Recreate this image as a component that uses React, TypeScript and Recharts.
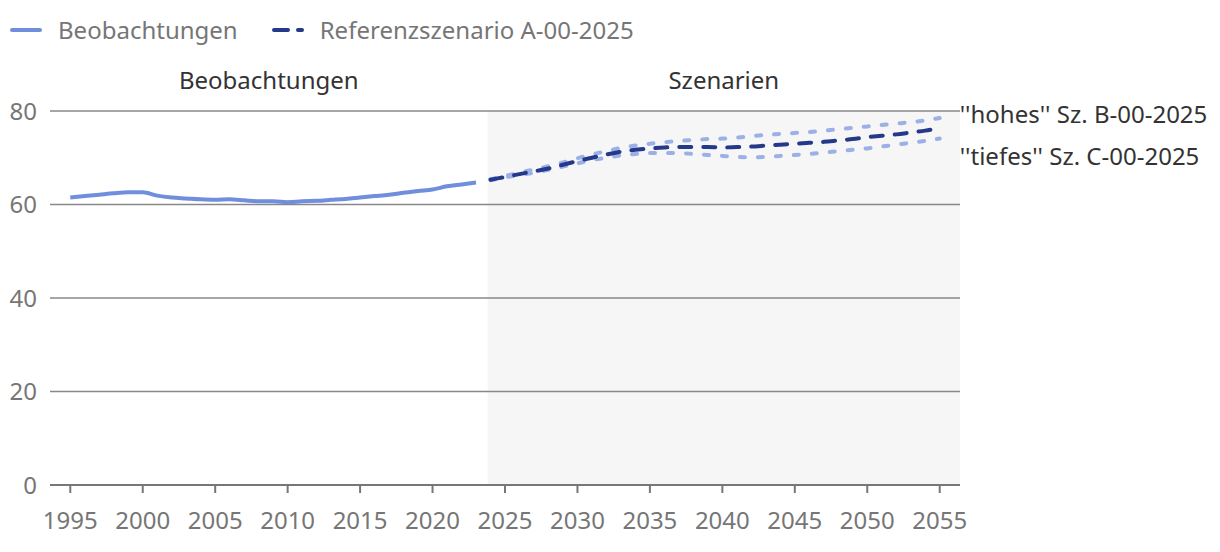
import React from 'react';
import {
  LineChart,
  Line,
  XAxis,
  YAxis,
  ReferenceArea,
  ReferenceLine,
} from 'recharts';

const obsYears = [
  1995, 1996, 1997, 1998, 1999, 2000, 2001, 2002, 2003, 2004, 2005, 2006, 2007, 2008, 2009,
  2010, 2011, 2012, 2013, 2014, 2015, 2016, 2017, 2018, 2019, 2020, 2021, 2022, 2023,
];
const beobachtungen = [
  61.5, 61.8, 62.1, 62.4, 62.6, 62.6, 61.9, 61.5, 61.3, 61.1, 61.0, 61.1, 60.9, 60.7, 60.7,
  60.5, 60.7, 60.8, 61.0, 61.2, 61.5, 61.8, 62.1, 62.5, 62.9, 63.2, 63.9, 64.3, 64.7,
];

const szenYears = [
  2024, 2025, 2026, 2027, 2028, 2029, 2030, 2031, 2032, 2033, 2034, 2035, 2036, 2037, 2038, 2039,
  2040, 2041, 2042, 2043, 2044, 2045, 2046, 2047, 2048, 2049, 2050, 2051, 2052, 2053, 2054, 2055,
];
const referenz = [
  65.3, 65.9, 66.5, 67.1, 67.7, 68.5, 69.3, 70.0, 70.7, 71.3, 71.7, 72.0, 72.2, 72.3, 72.3, 72.3,
  72.2, 72.3, 72.4, 72.6, 72.8, 73.0, 73.2, 73.4, 73.7, 74.0, 74.4, 74.7, 75.0, 75.4, 75.8, 76.4,
];
const hohes = [
  65.4, 66.1, 66.8, 67.5, 68.2, 69.0, 69.9, 70.7, 71.4, 72.1, 72.6, 73.0, 73.3, 73.6, 73.8, 74.0,
  74.1, 74.3, 74.6, 74.9, 75.1, 75.3, 75.5, 75.8, 76.1, 76.4, 76.7, 77.0, 77.3, 77.6, 78.0, 78.5,
];
const tiefes = [
  65.2, 65.8, 66.3, 66.8, 67.4, 68.1, 68.8, 69.5, 70.0, 70.5, 70.8, 71.0, 71.0, 71.0, 70.8, 70.6,
  70.4, 70.2, 70.1, 70.2, 70.4, 70.6, 70.8, 71.1, 71.4, 71.7, 72.0, 72.4, 72.8, 73.2, 73.6, 74.1,
];

const xTicks = [1995, 2000, 2005, 2010, 2015, 2020, 2025, 2030, 2035, 2040, 2045, 2050, 2055];
const yTicks = [0, 20, 40, 60, 80];
const gridValues = [20, 40, 60, 80];

const data = [
  ...obsYears.map((year, i) => ({ year, obs: beobachtungen[i] })),
  ...szenYears.map((year, i) => ({ year, ref: referenz[i], high: hohes[i], low: tiefes[i] })),
];

const FONT = '"Noto Sans", sans-serif';
const GRAY = '#767676';
const OBS = '#6f8edb';
const REF = '#25398a';
const SZ = '#9cb0e8';
const FS = 24;

const endLabel = (text: string, dy: number, lastIndex: number) => (props: any) => {
  if (props.index !== lastIndex) return null;
  return (
    <text
      x={props.x + 20}
      y={props.y + dy}
      dominantBaseline="central"
      fontSize={FS}
      fill="#333"
      fontFamily={FONT}
    >
      {text}
    </text>
  );
};

export default function App() {
  const last = data.length - 1;
  return (
    <div style={{ position: 'relative', width: 1220, height: 552, fontFamily: FONT }}>
      <style>{`body{margin:0}`}</style>
      <div
        style={{
          position: 'absolute',
          top: 13,
          left: 10,
          display: 'flex',
          alignItems: 'center',
          fontSize: FS,
          color: GRAY,
          zIndex: 2,
        }}
      >
        <svg width={32} height={10} style={{ marginRight: 16 }}>
          <line x1={2} y1={5} x2={30} y2={5} stroke={OBS} strokeWidth={4} strokeLinecap="round" />
        </svg>
        <span style={{ marginRight: 34 }}>Beobachtungen</span>
        <svg width={32} height={10} style={{ marginRight: 16 }}>
          <line
            x1={2}
            y1={5}
            x2={30}
            y2={5}
            stroke={REF}
            strokeWidth={4}
            strokeLinecap="round"
            strokeDasharray="14 10"
          />
        </svg>
        <span>Referenzszenario A-00-2025</span>
      </div>
      <LineChart
        width={1220}
        height={552}
        data={data}
        margin={{ top: 111, right: 260, left: 10, bottom: 17 }}
      >
        <ReferenceArea
          x1={1993.6}
          x2={2023.8}
          y1={0}
          y2={80}
          fill="#ffffff"
          fillOpacity={0}
          label={{ value: 'Beobachtungen', position: 'top', offset: 22, fontSize: FS, fill: '#333', fontFamily: FONT }}
        />
        <ReferenceArea
          x1={2023.8}
          x2={2056.4}
          y1={0}
          y2={80}
          fill="#f6f6f6"
          fillOpacity={1}
          label={{ value: 'Szenarien', position: 'top', offset: 22, fontSize: FS, fill: '#333', fontFamily: FONT }}
        />
        {gridValues.map((v) => (
          <ReferenceLine key={v} y={v} stroke="#888" strokeWidth={1.5} />
        ))}
        <XAxis
          dataKey="year"
          type="number"
          domain={[1993.6, 2056.4]}
          ticks={xTicks}
          allowDataOverflow
          height={50}
          stroke="#777"
          strokeWidth={2}
          tickSize={8}
          tickMargin={19}
          tick={{ fill: GRAY, fontSize: FS, fontFamily: FONT }}
        />
        <YAxis
          domain={[0, 80]}
          ticks={yTicks}
          width={40}
          axisLine={false}
          tickLine={false}
          tickSize={0}
          tickMargin={13}
          tick={{ fill: GRAY, fontSize: FS, fontFamily: FONT }}
        />
        <Line
          dataKey="obs"
          type="monotone"
          stroke={OBS}
          strokeWidth={4}
          dot={false}
          activeDot={false}
          isAnimationActive={false}
        />
        <Line
          dataKey="high"
          type="monotone"
          stroke={SZ}
          strokeWidth={4}
          strokeLinecap="round"
          strokeDasharray="5 13"
          dot={false}
          activeDot={false}
          isAnimationActive={false}
          label={endLabel("''hohes'' Sz. B-00-2025", -5, last)}
        />
        <Line
          dataKey="low"
          type="monotone"
          stroke={SZ}
          strokeWidth={4}
          strokeLinecap="round"
          strokeDasharray="5 13"
          dot={false}
          activeDot={false}
          isAnimationActive={false}
          label={endLabel("''tiefes'' Sz. C-00-2025", 17, last)}
        />
        <Line
          dataKey="ref"
          type="monotone"
          stroke={REF}
          strokeWidth={4}
          strokeLinecap="round"
          strokeDasharray="12 12"
          dot={false}
          activeDot={false}
          isAnimationActive={false}
        />
      </LineChart>
    </div>
  );
}
